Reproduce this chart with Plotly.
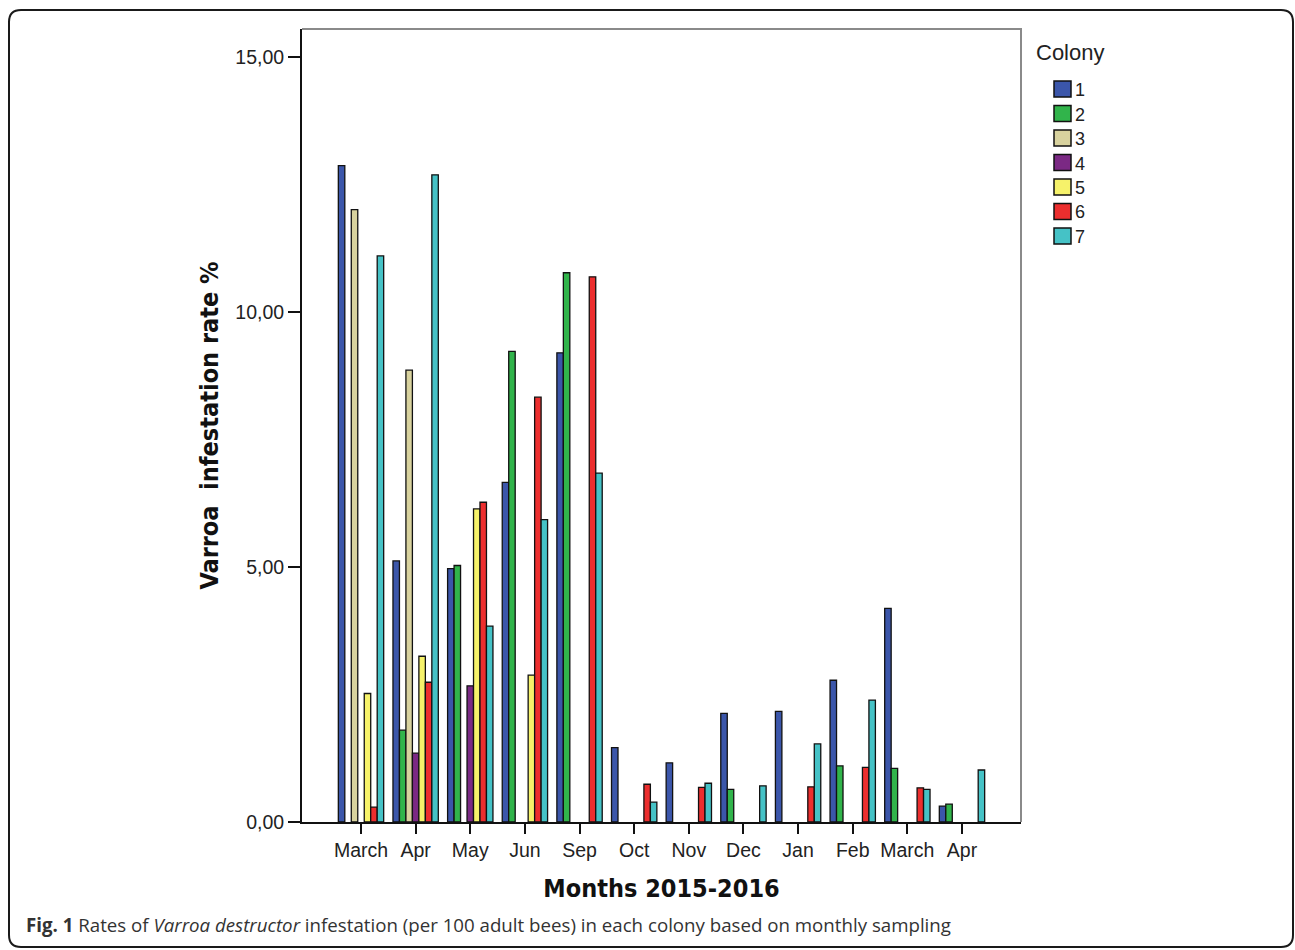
import plotly.graph_objects as go

# Sampling months (March 2015 through April 2016)
months = ["March", "Apr", "May", "Jun", "Sep", "Oct", "Nov", "Dec",
          "Jan", "Feb", "March", "Apr"]

# Varroa infestation rate (%) per colony; None = no value recorded
colony_1 = [12.87, 5.12, 4.97, 6.66, 9.20, 1.46, 1.16, 2.13, 2.17, 2.78, 4.19, 0.31]
colony_2 = [None, 1.80, 5.03, 9.23, 10.77, None, None, 0.64, None, 1.10, 1.05, 0.35]
colony_3 = [12.01, 8.86, None, None, None, None, None, None, None, None, None, None]
colony_4 = [None, 1.35, 2.67, None, None, None, None, None, None, None, None, None]
colony_5 = [2.52, 3.25, 6.14, 2.88, None, None, None, None, None, None, None, None]
colony_6 = [0.29, 2.74, 6.27, 8.33, 10.69, 0.74, 0.68, None, 0.69, 1.07, 0.67, None]
colony_7 = [11.10, 12.69, 3.84, 5.93, 6.84, 0.39, 0.76, 0.71, 1.53, 2.39, 0.64, 1.02]

colony_names = ["1", "2", "3", "4", "5", "6", "7"]
colony_values = [colony_1, colony_2, colony_3, colony_4, colony_5, colony_6, colony_7]
colony_colors = ["#3b56aa", "#31b44b", "#d8d29e", "#7b2984", "#f6f26a", "#ec2e2e", "#45c2c6"]

y_ticks = [0, 5, 10, 15]

W, H = 1295, 950
L, R, T, B = 302, 1021, 29, 822  # plot area edges in pixels
PW, PH = R - L, B - T


def px(x):
    return (x - L) / PW


def py(y):
    return (B - y) / PH


x_pos = list(range(len(months)))

fig = go.Figure()
for name, vals, col in zip(colony_names, colony_values, colony_colors):
    fig.add_trace(go.Bar(
        x=x_pos, y=vals, name=name, showlegend=False,
        marker=dict(color=col, line=dict(color="#111111", width=1.3)),
    ))

# outer rounded figure frame
x0, x1, y0, y1, r = 9, 1293, 10, 947, 12
frame_path = (
    f"M {px(x0 + r)},{py(y0)} L {px(x1 - r)},{py(y0)} "
    f"Q {px(x1)},{py(y0)} {px(x1)},{py(y0 + r)} "
    f"L {px(x1)},{py(y1 - r)} Q {px(x1)},{py(y1)} {px(x1 - r)},{py(y1)} "
    f"L {px(x0 + r)},{py(y1)} Q {px(x0)},{py(y1)} {px(x0)},{py(y1 - r)} "
    f"L {px(x0)},{py(y0 + r)} Q {px(x0)},{py(y0)} {px(x0 + r)},{py(y0)} Z"
)
fig.add_shape(type="path", path=frame_path, xref="paper", yref="paper",
              line=dict(color="#1a1a1a", width=2), layer="below")

# light top/right border of the plot area
fig.add_shape(type="path", xref="paper", yref="paper",
              path="M 0,1 L 1,1 L 1,0", line=dict(color="#8a8a8a", width=2),
              layer="below")

# legend: title, colour swatches and colony labels
legend_font = "Liberation Sans, Arial, sans-serif"
fig.add_annotation(
    xref="paper", yref="paper", x=px(1034), y=py(53),
    xanchor="left", yanchor="middle", showarrow=False, text="Colony",
    font=dict(family=legend_font, size=22, color="#222222"),
)
for i, (name, col) in enumerate(zip(colony_names, colony_colors)):
    cy = 89 + 24.5 * i
    fig.add_shape(type="rect", xref="paper", yref="paper",
                  x0=px(1054), x1=px(1071), y0=py(cy + 8), y1=py(cy - 8),
                  fillcolor=col, line=dict(color="#111111", width=1.5))
    fig.add_annotation(
        xref="paper", yref="paper", x=px(1073), y=py(cy + 1),
        xanchor="left", yanchor="middle", showarrow=False, text=name,
        font=dict(family=legend_font, size=18, color="#222222"),
    )

# caption
fig.add_annotation(
    xref="paper", yref="paper", x=px(24), y=py(925),
    xanchor="left", yanchor="middle", showarrow=False,
    text="<b>Fig. 1</b> Rates of <i>Varroa destructor</i> infestation (per 100 adult bees) "
         "in each colony based on monthly sampling",
    font=dict(family="Open Sans, Noto Sans, sans-serif", size=18.7, color="#333333"),
)

title_font = dict(family="Liberation Sans Narrow, DejaVu Sans Condensed, Arial Narrow, sans-serif",
                  size=25, color="#111111", weight="bold")
tick_font = dict(family="Liberation Sans, Arial, sans-serif", size=19.5, color="#222222")

fig.update_layout(
    width=W, height=H,
    margin=dict(l=L, r=W - R, t=T, b=H - B, autoexpand=False),
    paper_bgcolor="white", plot_bgcolor="white",
    barmode="group", bargap=0.17, bargroupgap=0,
    separators=",.",
    showlegend=False,
    xaxis=dict(
        range=[-1.08, len(months) - 1 + 1.08],
        tickmode="array", tickvals=x_pos, ticktext=months,
        ticks="outside", ticklen=10, tickwidth=2, tickcolor="#111111",
        showline=True, linecolor="#111111", linewidth=2,
        showgrid=False, zeroline=False, tickfont=tick_font,
        title=dict(text="Months 2015-2016", font=title_font, standoff=19),
    ),
    yaxis=dict(
        range=[0, 15.55],
        tickmode="array", tickvals=y_ticks, tickformat=".2f",
        ticks="outside", ticklen=12, tickwidth=2, tickcolor="#111111",
        showline=True, linecolor="#111111", linewidth=2,
        showgrid=False, zeroline=False, tickfont=tick_font,
        title=dict(text="Varroa  infestation rate %", font=title_font, standoff=10),
    ),
)

fig.write_html("out.html")
